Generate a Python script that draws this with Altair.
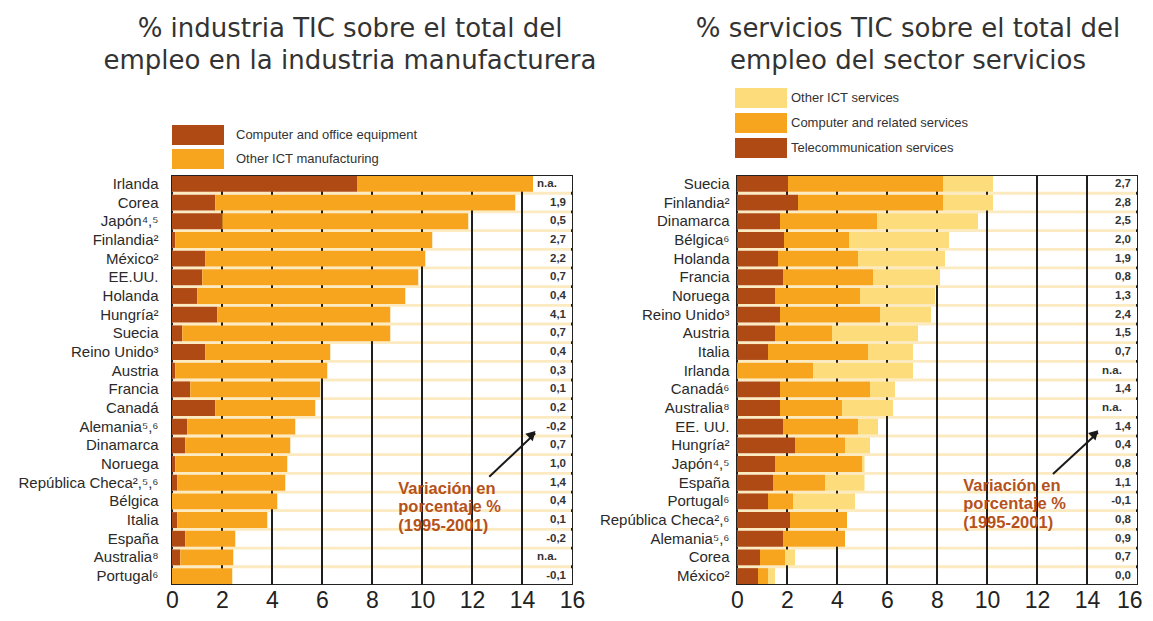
import altair as alt
import pandas as pd

# ---------------- Panel 1: industria manufacturera ----------------
paises_m = ["Irlanda", "Corea", "Japón⁴,⁵", "Finlandia²", "México²", "EE.UU.", "Holanda",
            "Hungría²", "Suecia", "Reino Unido³", "Austria", "Francia", "Canadá",
            "Alemania⁵,⁶", "Dinamarca", "Noruega", "República Checa²,⁵,⁶", "Bélgica",
            "Italia", "España", "Australia⁸", "Portugal⁶"]
equipo_oficina = [7.40, 1.73, 2.01, 0.13, 1.33, 1.21, 1.01, 1.81, 0.41, 1.33, 0.13,
                  0.73, 1.73, 0.61, 0.53, 0.13, 0.21, 0.00, 0.21, 0.53, 0.33, 0.00]
otra_manufactura = [7.04, 12.00, 9.84, 10.28, 8.80, 8.64, 8.32, 6.92, 8.32, 5.00, 6.08,
                    5.20, 4.00, 4.32, 4.20, 4.48, 4.32, 4.21, 3.60, 2.00, 2.12, 2.41]
variacion_m = ["n.a.", "1,9", "0,5", "2,7", "2,2", "0,7", "0,4", "4,1", "0,7", "0,4", "0,3",
               "0,1", "0,2", "-0,2", "0,7", "1,0", "1,4", "0,4", "0,1", "-0,2", "n.a.", "-0,1"]
series_m = ["Computer and office equipment", "Other ICT manufacturing"]

# ---------------- Panel 2: sector servicios ----------------
paises_s = ["Suecia", "Finlandia²", "Dinamarca", "Bélgica⁶", "Holanda", "Francia", "Noruega",
            "Reino Unido³", "Austria", "Italia", "Irlanda", "Canadá⁶", "Australia⁸", "EE. UU.",
            "Hungría²", "Japón⁴,⁵", "España", "Portugal⁶", "República Checa²,⁶",
            "Alemania⁵,⁶", "Corea", "México²"]
telecom = [2.04, 2.44, 1.72, 1.88, 1.64, 1.84, 1.52, 1.72, 1.52, 1.24, 0.00,
           1.72, 1.72, 1.84, 2.32, 1.52, 1.44, 1.24, 2.12, 1.84, 0.92, 0.84]
informatica = [6.20, 5.80, 3.88, 2.60, 3.20, 3.60, 3.40, 4.00, 2.28, 4.00, 3.04,
               3.60, 2.48, 3.00, 2.00, 3.48, 2.08, 1.00, 2.28, 2.48, 1.00, 0.40]
otros_servicios = [2.00, 2.00, 4.04, 4.00, 3.48, 2.68, 3.00, 2.04, 3.44, 1.80, 4.00,
                   1.00, 2.04, 0.80, 1.00, 0.10, 1.58, 2.48, 0.00, 0.00, 0.40, 0.28]
variacion_s = ["2,7", "2,8", "2,5", "2,0", "1,9", "0,8", "1,3", "2,4", "1,5", "0,7", "n.a.",
               "1,4", "n.a.", "1,4", "0,4", "0,8", "1,1", "-0,1", "0,8", "0,9", "0,7", "0,0"]
series_s = ["Other ICT services", "Computer and related services", "Telecommunication services"]

ticks_x = [0, 2, 4, 6, 8, 10, 12, 14, 16]
grid_x = [2, 4, 6, 8, 10, 12, 14]
nota = ["Variación en", "porcentaje %", "(1995-2001)"]

OSCURO, NARANJA, CLARO = "#B04A14", "#F7A51F", "#FDDC7C"
FONT = "Liberation Sans"
W, H = 400, 408


def panel(paises, capas, nombres, dominio_leyenda, colores, variacion, titulo, title_dx,
          title_offset, leg_x, leg_y, leg_label_offset, leg_row_pad, arrow, nota_fila,
          nota_x, nota_dy, y_label_pad, ultimo_a_la_derecha):
    filas = []
    for orden, (nombre, valores) in enumerate(zip(nombres, capas)):
        for p, v in zip(paises, valores):
            filas.append({"pais": p, "serie": nombre, "valor": v, "orden": orden})
    df_bar = pd.DataFrame(filas)
    df_pais = pd.DataFrame({"pais": paises, "var": variacion})
    df_grid = pd.DataFrame({"g": grid_x})

    x_scale = alt.Scale(domain=[0, 16], nice=False, zero=True)
    y_scale = alt.Scale(domain=paises, paddingInner=0.15, paddingOuter=0)
    y_enc = alt.Y("pais:N", scale=y_scale, title=None,
                  axis=alt.Axis(labelFontSize=15, labelFont=FONT, labelColor="#2a2a2a",
                                ticks=False, domain=False, labelPadding=y_label_pad,
                                labelLimit=300))
    extra = {}
    if ultimo_a_la_derecha:
        # keep the last tick label inside the page
        extra = dict(
            labelAlign={"condition": {"test": "datum.value == 16", "value": "right"},
                        "value": "center"},
            labelOffset={"condition": {"test": "datum.value == 16", "value": 5},
                         "value": 0},
        )
    x_axis = alt.Axis(values=ticks_x, labelFontSize=23, labelFont=FONT, labelColor="#222",
                      ticks=False, domain=False, grid=False, labelPadding=5,
                      labelFlush=False, title=None, **extra)

    filas_blancas = alt.Chart(df_pais).mark_bar(color="white").encode(
        x=alt.X(datum=0, scale=x_scale, axis=x_axis, title=None),
        x2=alt.datum(16),
        y=y_enc,
    )
    rejilla = alt.Chart(df_grid).mark_rule(color="#1e1e1e", strokeWidth=2).encode(
        x=alt.X("g:Q", scale=x_scale, title=None)
    )
    barras = alt.Chart(df_bar).mark_bar().encode(
        x=alt.X("valor:Q", stack="zero", scale=x_scale, title=None),
        y=alt.Y("pais:N", scale=y_scale, title=None),
        color=alt.Color("serie:N",
                        scale=alt.Scale(domain=dominio_leyenda, range=colores),
                        legend=alt.Legend(
                            orient="none", legendX=leg_x, legendY=leg_y, title=None,
                            symbolType="M-1,-0.385L1,-0.385L1,0.385L-1,0.385Z",
                            symbolSize=2704, clipHeight=20, rowPadding=leg_row_pad,
                            symbolStrokeWidth=0, symbolOpacity=1, labelLimit=400,
                            labelFontSize=13, labelFont=FONT, labelColor="#333",
                            labelOffset=leg_label_offset)),
        order=alt.Order("orden:Q"),
    )
    numeros = alt.Chart(df_pais).transform_filter("datum.var != 'n.a.'").mark_text(
        align="right", baseline="middle", dx=-6, fontSize=11.5, fontWeight="bold",
        font=FONT, color="#333"
    ).encode(x=alt.datum(16), y=alt.Y("pais:N", scale=y_scale, title=None), text="var:N")
    na = alt.Chart(df_pais).transform_filter("datum.var == 'n.a.'").mark_text(
        align="center", baseline="middle", fontSize=11.5, fontWeight="bold",
        font=FONT, color="#333"
    ).encode(x=alt.datum(15), y=alt.Y("pais:N", scale=y_scale, title=None), text="var:N")

    texto_nota = alt.Chart(df_pais).transform_filter(
        alt.datum.pais == nota_fila).mark_text(
        align="left", baseline="middle", dy=nota_dy, fontSize=16.5, fontWeight="bold",
        font=FONT, color="#B5521B", lineHeight=18.5
    ).encode(x=alt.datum(nota_x), y=alt.Y("pais:N", scale=y_scale, title=None),
             text=alt.value(nota))

    (x1, fila1, off1), (x2, fila2, off2) = arrow
    df_flecha = pd.DataFrame({"xa": [x1], "ya": [fila1], "xb": [x2], "yb": [fila2]})
    linea = alt.Chart(df_flecha).mark_rule(
        color="#1a1a1a", strokeWidth=2, yOffset=off1, y2Offset=off2 + 3
    ).encode(x=alt.X("xa:Q", scale=x_scale, title=None), x2="xb:Q",
             y=alt.Y("ya:N", scale=y_scale, title=None), y2="yb:N")
    punta = alt.Chart(df_flecha).mark_point(
        shape="triangle-up", angle=45, filled=True, size=110, color="#1a1a1a",
        opacity=1, yOffset=off2 + 4, xOffset=-3
    ).encode(x=alt.X("xb:Q", scale=x_scale, title=None),
             y=alt.Y("yb:N", scale=y_scale, title=None))

    return alt.layer(filas_blancas, rejilla, barras, numeros, na, texto_nota, linea, punta).properties(
        width=W, height=H,
        title=alt.TitleParams(text=titulo, fontSize=26, font="DejaVu Sans", fontWeight="normal",
                              color="#333", anchor="middle", dx=title_dx, offset=title_offset,
                              lineHeight=32),
    )


izq = panel(
    paises_m, [equipo_oficina, otra_manufactura], series_m, series_m, [OSCURO, NARANJA],
    variacion_m, ["% industria TIC sobre el total del", "empleo en la industria manufacturera"],
    -22, 51.5, 0, -51, 12, 4,
    ((12.69, "República Checa²,⁵,⁶", -6), (14.53, "Alemania⁵,⁶", 3.6)),
    "República Checa²,⁵,⁶", 9.05, 6, 14, False,
)
der = panel(
    paises_s, [telecom, informatica, otros_servicios], series_s[::-1], series_s,
    [CLARO, NARANJA, OSCURO],
    variacion_s, ["% servicios TIC sobre el total del", "empleo del sector servicios"],
    -29, 14.5, -2, -88, 4, 5,
    ((12.64, "España", -8.6), (14.44, "EE. UU.", 2.9)),
    "España", 9.05, 3, 8, True,
)

chart = alt.hconcat(izq, der, spacing=0).resolve_scale(
    color="independent", y="independent", x="independent"
).resolve_legend(color="independent").configure_view(
    fill="#FCEAC0", stroke="#222", strokeWidth=2
).properties(
    padding={"left": 9, "top": 6, "right": 0, "bottom": 0},
    background="white",
)

chart.save("out.html", embed_options={"renderer": "svg", "actions": False})
